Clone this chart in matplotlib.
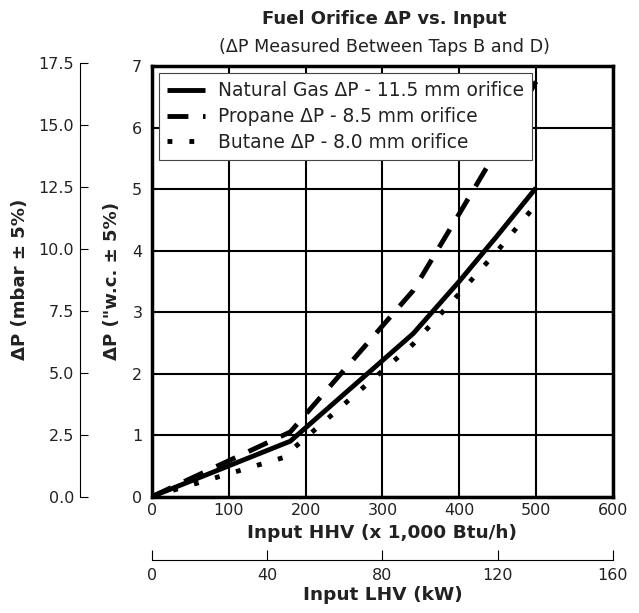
import matplotlib
matplotlib.use("Agg")
import matplotlib.pyplot as plt

plt.rcParams['font.family'] = ['DejaVu Sans']

# input HHV (x 1,000 Btu/h) and delta P ("w.c.)
ng_x = [0, 180, 340, 400, 450, 500]
ng_y = [0, 0.90, 2.65, 3.50, 4.25, 5.02]
propane_x = [0, 180, 340, 400, 450, 500]
propane_y = [0, 1.05, 3.35, 4.60, 5.65, 6.75]
butane_x = [0, 170, 340, 400, 450, 500]
butane_y = [0, 0.63, 2.48, 3.30, 4.00, 4.75]

labels = ["Natural Gas \u0394P - 11.5 mm orifice",
          "Propane \u0394P - 8.5 mm orifice",
          "Butane \u0394P - 8.0 mm orifice"]

x_ticks = [0, 100, 200, 300, 400, 500, 600]
y_ticks = [0, 1, 2, 3, 4, 5, 6, 7]
mbar_ticks = [0, 2.5, 5.0, 7.5, 10.0, 12.5, 15.0, 17.5]
kw_ticks = [0, 40, 80, 120, 160]

fs_tick = 11.5
fs_lab = 13.3
fs_ylab = 13.1
txt = '#222222'

fig = plt.figure(figsize=(6.39, 6.13), dpi=100)
L, B, R, T = 0.238, 0.190, 0.959, 0.892
ax = fig.add_axes([L, B, R - L, T - B])

ax.plot(ng_x, ng_y, color='black', lw=3.5, label=labels[0], solid_capstyle='butt')
ax.plot(propane_x, propane_y, color='black', lw=3.5, ls=(0, (4.3, 3)), label=labels[1])
ax.plot(butane_x, butane_y, color='black', lw=3.5, ls=(0, (1, 3.5)), label=labels[2])

ax.set_xlim(0, 600)
ax.set_ylim(0, 7)
ax.set_xticks(x_ticks)
ax.set_yticks(y_ticks)
ax.grid(True, color='black', lw=1.5)
ax.set_axisbelow(True)
ax.tick_params(axis='x', length=0, labelsize=fs_tick, pad=5, labelcolor=txt)
ax.tick_params(axis='y', length=0, labelsize=fs_tick, pad=7, labelcolor=txt)
for s in ax.spines.values():
    s.set_linewidth(2.5)
ax.set_xlabel("Input HHV (x 1,000 Btu/h)", fontsize=fs_lab, fontweight='bold',
              labelpad=4, color=txt)
ax.set_ylabel("\u0394P (\"w.c. \u00b1 5%)", fontsize=fs_ylab, fontweight='bold',
              labelpad=8, color=txt)

leg = ax.legend(loc='upper left', bbox_to_anchor=(0.0152, 0.984), fontsize=13.4,
                frameon=True, fancybox=False, edgecolor='#444444', framealpha=1,
                handlelength=2.0, borderpad=0.45, labelspacing=0.36, handletextpad=0.7,
                borderaxespad=0)
leg.get_frame().set_linewidth(0.8)
for t in leg.get_texts():
    t.set_color(txt)

# left mbar scale
ax2 = fig.add_axes([0.125, B, 0.0001, 0.897 - B])
ax2.set_ylim(0, 17.5)
ax2.set_yticks(mbar_ticks)
ax2.set_yticklabels([f"{v:.1f}" for v in mbar_ticks])
ax2.set_xticks([])
for k in ['top', 'right', 'bottom']:
    ax2.spines[k].set_visible(False)
ax2.spines['left'].set_linewidth(0.8)
ax2.tick_params(axis='y', direction='in', length=6, width=0.8, labelsize=fs_tick,
                pad=4, labelcolor=txt)
ax2.set_ylabel("\u0394P (mbar \u00b1 5%)", fontsize=fs_ylab, fontweight='bold',
               labelpad=7, color=txt)
ax2.patch.set_visible(False)

# bottom kW scale
ax3 = fig.add_axes([L, 0.0865, R - L, 0.0001])
ax3.set_xlim(0, 160)
ax3.set_xticks(kw_ticks)
ax3.set_yticks([])
for k in ['top', 'right', 'left']:
    ax3.spines[k].set_visible(False)
ax3.spines['bottom'].set_linewidth(0.8)
ax3.tick_params(axis='x', direction='in', length=7, width=0.8, labelsize=fs_tick,
                pad=6, labelcolor=txt)
ax3.set_xlabel("Input LHV (kW)", fontsize=fs_lab, fontweight='bold', labelpad=2, color=txt)
ax3.patch.set_visible(False)

fig.text(0.601, 0.969, "Fuel Orifice \u0394P vs. Input", ha='center', va='center',
         fontsize=13, fontweight='bold', color=txt)
fig.text(0.601, 0.923, "(\u0394P Measured Between Taps B and D)", ha='center', va='center',
         fontsize=12.6, color=txt)

fig.savefig("out.png", dpi=100)
